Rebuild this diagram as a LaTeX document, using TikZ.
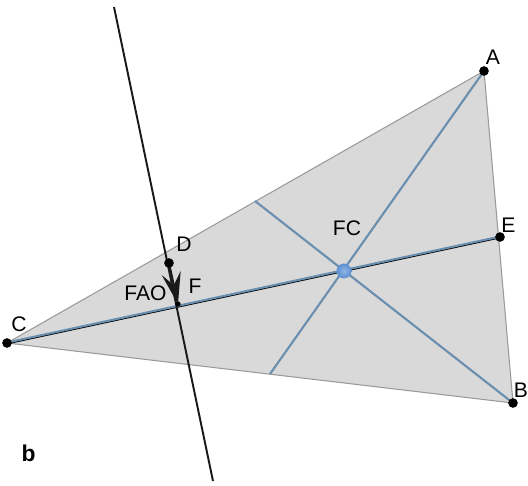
\documentclass[tikz,border=0pt]{standalone}
\usepackage{fontspec}
\setmainfont{Liberation Sans}
\usetikzlibrary{arrows.meta}
\definecolor{trifill}{HTML}{D9D9D9}
\definecolor{triedge}{HTML}{9A9A9A}
\definecolor{medblue}{HTML}{6A8EAE}
\definecolor{ptblue}{HTML}{5E8FCF}
\definecolor{ptlight}{HTML}{8DB4E6}
\tikzset{
  pt/.style={circle,fill=black,inner sep=0pt,minimum size=5.5pt},
  lbl/.style={font=\fontsize{12}{14}\selectfont,inner sep=0pt},
  medline/.style={draw=medblue,line width=1.2pt},
  blackline/.style={draw=black!90,line width=1.1pt}
}
\begin{document}
\begin{tikzpicture}[x=0.02cm,y=-0.02cm]
\useasboundingbox (0,0) rectangle (528,485);
\coordinate (A) at (484,71);
\coordinate (B) at (513,403);
\coordinate (C) at (7,343);
\coordinate (E) at (500,237);
\coordinate (D) at (169,263);
\coordinate (F) at (178,304);
\coordinate (FC) at (344,271);
\coordinate (M1) at (270,374);
\coordinate (M2) at (255,201);
\coordinate (T) at (114,7);
\coordinate (U) at (213,481);
% triangle
\filldraw[fill=trifill,draw=triedge,line width=0.6pt] (A) -- (B) -- (C) -- cycle;
% medians / perpendiculars
\draw[medline] (A) -- (M1);
\draw[medline] (M2) -- (B);
\draw[black,line width=0.9pt] ([yshift=-0.35pt]C) -- ([yshift=-0.35pt]E);
\draw[medline] ([yshift=0.25pt]C) -- ([yshift=0.25pt]E);
% black line
\draw[blackline] (T) -- (U);
\draw[blackline,-{Stealth[length=18pt,width=11pt,inset=7pt]}] (D) -- (F);
% points
\node[pt] at (A) {};
\node[pt] at (B) {};
\node[pt] at (C) {};
\node[pt] at (E) {};
\node[pt] at (D) {};
\node[circle,fill=black,inner sep=0pt,minimum size=3pt] at (F) {};
\node[circle,inner sep=0pt,minimum size=8.5pt,inner color=ptlight,outer color=ptblue] at (FC) {};
% labels
\node[lbl] (lA) at (493,57.5) {A};
\node[lbl] (lB) at (521,390.5) {B};
\node[lbl] (lE) at (508.5,225) {E};
\node[lbl] (lC) at (19,324.5) {C};
\node[lbl] (lD) at (184,244.5) {D};
\node[lbl] (lF) at (195,286.5) {F};
\node[lbl] (lFAO) at (145.5,293) {FAO};
\node[lbl] (lFC) at (347,228) {FC};
\node[lbl,font=\fontsize{13}{15}\selectfont\bfseries] (lb) at (28.5,453.5) {b};
\end{tikzpicture}
\end{document}
